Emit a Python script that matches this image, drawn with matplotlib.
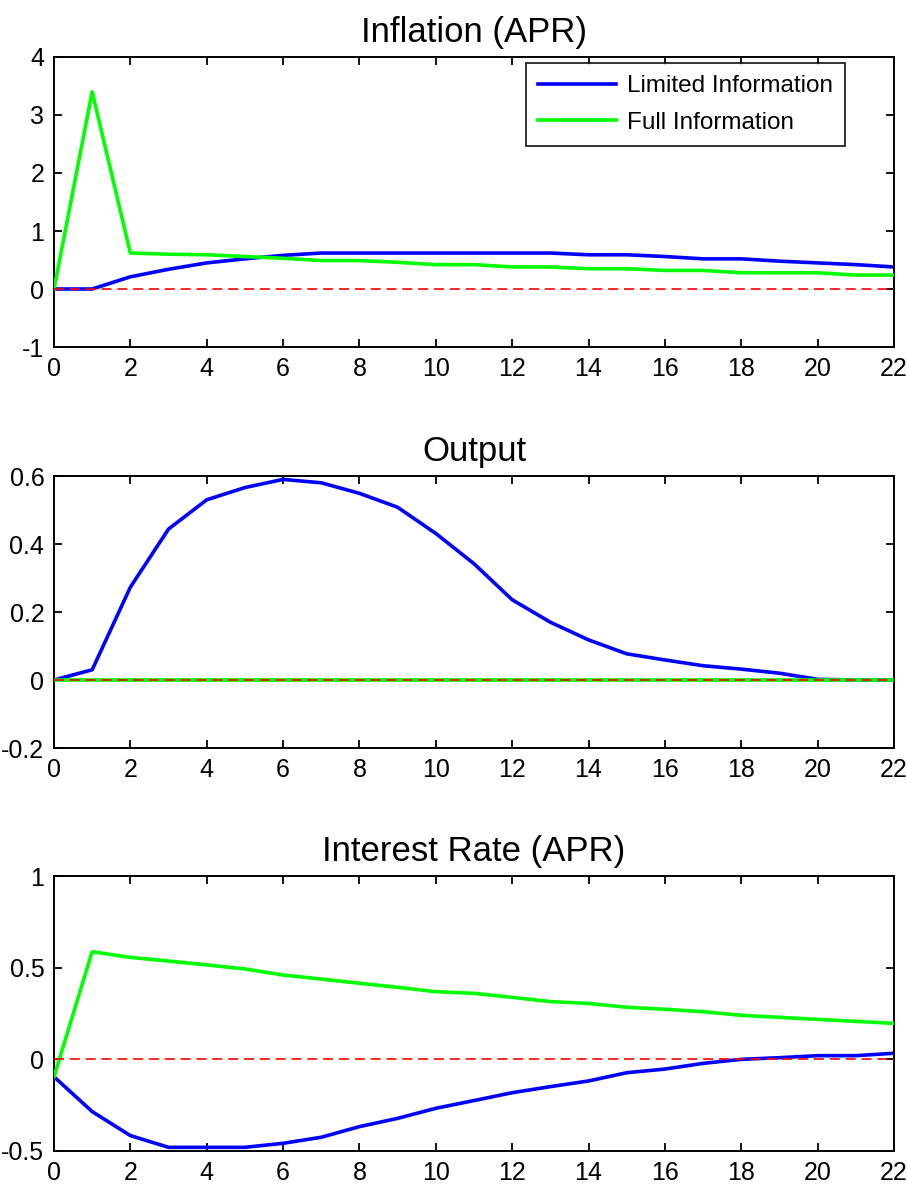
import matplotlib
matplotlib.use("Agg")
import matplotlib.pyplot as plt
from matplotlib.ticker import FuncFormatter

plt.rcParams['font.family'] = ['Liberation Sans', 'DejaVu Sans']

periods = list(range(23))

infl_limited = [0, 0, 0.21, 0.34, 0.45, 0.52, 0.58, 0.62, 0.62, 0.62, 0.62, 0.62, 0.62, 0.62,
                0.59, 0.59, 0.56, 0.52, 0.52, 0.48, 0.45, 0.42, 0.38]
infl_full = [0, 3.40, 0.62, 0.60, 0.59, 0.56, 0.53, 0.49, 0.49, 0.46, 0.42, 0.42, 0.38, 0.38,
             0.35, 0.35, 0.32, 0.32, 0.28, 0.28, 0.28, 0.24, 0.24]

out_limited = [0, 0.03, 0.273, 0.444, 0.53, 0.566, 0.59, 0.58, 0.549, 0.508, 0.431, 0.342,
               0.236, 0.17, 0.118, 0.077, 0.059, 0.042, 0.032, 0.02, 0.002, 0.0, 0.0]
out_full = [0.0] * 23

rate_limited = [-0.095, -0.285, -0.416, -0.48, -0.48, -0.48, -0.458, -0.425, -0.367, -0.322,
                -0.267, -0.225, -0.182, -0.149, -0.118, -0.073, -0.053, -0.022, 0.0, 0.009,
                0.02, 0.02, 0.033]
rate_full = [-0.095, 0.587, 0.556, 0.536, 0.515, 0.493, 0.46, 0.438, 0.415, 0.393, 0.369, 0.36,
             0.338, 0.315, 0.305, 0.284, 0.273, 0.26, 0.24, 0.229, 0.218, 0.207, 0.196]

titles = ["Inflation (APR)", "Output", "Interest Rate (APR)"]
ylims = [(-1, 4), (-0.2, 0.6), (-0.5, 1)]
yticks = [[-1, 0, 1, 2, 3, 4], [-0.2, 0, 0.2, 0.4, 0.6], [-0.5, 0, 0.5, 1]]
xticks = list(range(0, 23, 2))
legend_labels = ["Limited Information", "Full Information"]

W, H = 907, 1189
fig = plt.figure(figsize=(W / 100, H / 100), dpi=100)

# (top, bottom) in pixels
boxes = [(57, 347), (476, 748), (876, 1151)]
left_px, right_px = 54, 894

series = [(infl_limited, infl_full), (out_limited, out_full), (rate_limited, rate_full)]

def fmt(v, pos):
    return "%g" % v

for i, ((top, bot), (lim, full)) in enumerate(zip(boxes, series)):
    ax = fig.add_axes([left_px / W, 1 - bot / H, (right_px - left_px) / W, (bot - top) / H])
    l1, = ax.plot(periods, lim, color='#0000ff', linewidth=2.6, zorder=2, label=legend_labels[0])
    l2, = ax.plot(periods, full, color='#00ff00', linewidth=2.6, zorder=3, label=legend_labels[1])
    ax.plot(periods, [0] * len(periods), color='red', linestyle=(0, (6, 3.5)), linewidth=1.2, zorder=4)
    ax.set_xlim(0, 22)
    ax.set_ylim(*ylims[i])
    ax.set_xticks(xticks)
    ax.set_yticks(yticks[i])
    ax.yaxis.set_major_formatter(FuncFormatter(fmt))
    ax.tick_params(direction='in', top=True, right=True, length=6, width=1.3,
                   labelsize=18, pad=7)
    for sp in ax.spines.values():
        sp.set_linewidth(1.4)
    ax.set_title(titles[i], fontsize=25, pad=11)
    if i == 0:
        leg = ax.legend(handles=[l1, l2], loc='upper right',
                        bbox_to_anchor=((845 - left_px) / (right_px - left_px), 1 - (63 - top) / (bot - top)),
                        borderaxespad=0, fontsize=17.5, frameon=True, fancybox=False,
                        edgecolor='black', handlelength=3.2, handletextpad=0.45,
                        borderpad=0.5, labelspacing=0.6)
        leg.get_frame().set_linewidth(1.4)

fig.savefig("out.png", dpi=100)
